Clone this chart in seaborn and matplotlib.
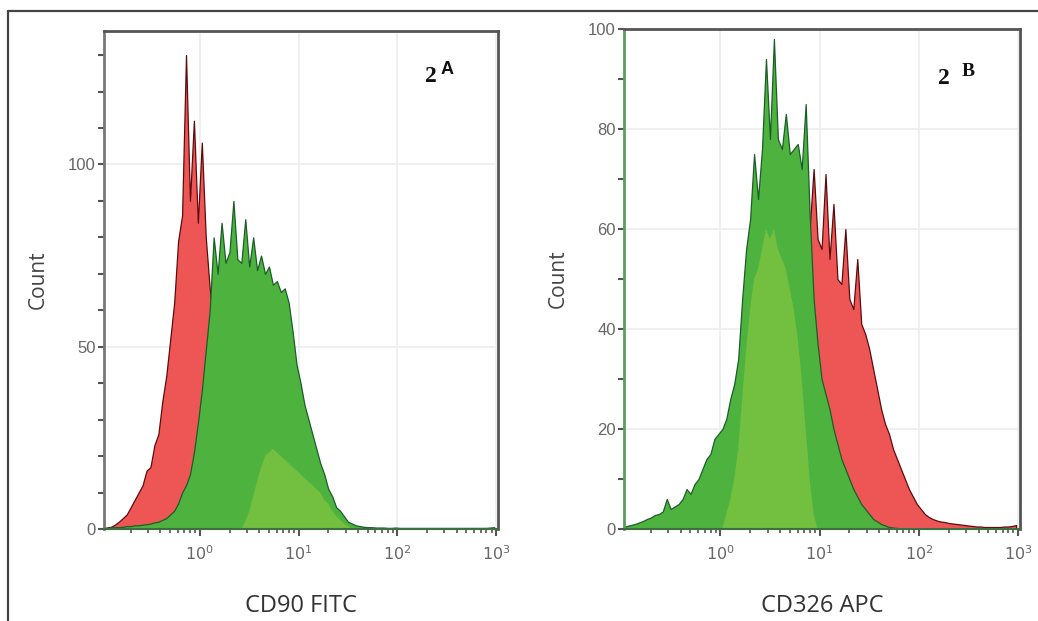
import numpy as np
import matplotlib
matplotlib.use("Agg")
import matplotlib.pyplot as plt
import seaborn as sns
from matplotlib.lines import Line2D
from matplotlib.ticker import LogLocator, NullFormatter, FixedLocator, FixedFormatter

sns.set_theme(style="white")
plt.rcParams['font.family'] = ['Liberation Sans', 'DejaVu Sans']

# ---- data: histogram channel counts, bins of 0.04 decades from 10^-1 to 10^3 ----
log_lo, log_hi, log_step = -1.0, 3.0, 0.04

cd90_red = [
    0.2, 0.4, 0.6, 1.2, 2, 3, 4, 6, 8, 10,
    12, 16, 17, 23, 26, 35, 42, 52, 62, 79,
    86, 130, 90, 112, 84, 106, 80, 66, 56, 44,
    34, 25, 18, 12, 8, 5, 3, 2, 1.2, 0.8,
    0.5, 0.3, 0.2, 0.1, 0, 0, 0, 0, 0, 0,
    0, 0, 0, 0, 0, 0, 0, 0, 0, 0,
    0, 0, 0, 0, 0, 0, 0, 0, 0, 0,
    0, 0, 0, 0, 0, 0, 0, 0, 0, 0,
    0, 0, 0, 0, 0, 0, 0, 0, 0, 0,
    0, 0, 0, 0, 0, 0, 0, 0, 0, 0,
]
cd90_green = [
    0.3, 0.3, 0.4, 0.5, 0.5, 0.6, 0.8, 0.8, 1, 1,
    1.2, 1.3, 1.5, 1.8, 2, 2.5, 3, 4, 5, 7,
    10, 12, 15, 21, 29, 38, 49, 60, 80, 70,
    84, 73, 76, 90, 74, 73, 85, 72, 80, 71,
    75, 70, 72, 67, 68, 65, 66, 62, 54, 45,
    40, 34, 30, 26, 22, 18, 15, 11, 9, 6,
    5, 3.5, 2, 1.5, 1, 0.8, 0.6, 0.5, 0.5, 0.4,
    0.4, 0.4, 0.3, 0.3, 0.4, 0.3, 0.3, 0.3, 0.3, 0.3,
    0.3, 0.3, 0.3, 0.3, 0.3, 0.3, 0.3, 0.3, 0.3, 0.3,
    0.3, 0.3, 0.3, 0.3, 0.3, 0.3, 0.3, 0.3, 0.4, 0.5,
]
cd90_green_light = [
    0, 0, 0, 0, 0, 0, 0, 0, 0, 0,
    0, 0, 0, 0, 0, 0, 0, 0, 0, 0,
    0, 0, 0, 0, 0, 0, 0, 0, 0, 0,
    0, 0, 0, 0, 0, 0, 2, 5, 9, 13,
    17, 20, 21, 22, 21, 20, 19, 18, 17, 16,
    15, 14, 13, 12, 11, 10, 8, 7, 5, 3.5,
    2.5, 1.5, 0.8, 0, 0, 0, 0, 0, 0, 0,
    0, 0, 0, 0, 0, 0, 0, 0, 0, 0,
    0, 0, 0, 0, 0, 0, 0, 0, 0, 0,
    0, 0, 0, 0, 0, 0, 0, 0, 0, 0,
]
cd326_red = [
    0, 0, 0, 0, 0, 0, 0, 0, 0, 0,
    0.2, 0.3, 0.5, 0.8, 1, 1.5, 2, 3, 4, 5,
    6, 8, 10, 12, 14, 17, 20, 24, 28, 32,
    36, 40, 44, 48, 52, 55, 58, 60, 62, 64,
    62, 63, 64, 64, 63, 62, 62, 60, 72, 58,
    56, 71, 54, 65, 50, 49, 60, 46, 44, 54,
    41, 39, 36, 32, 28, 24, 21, 19, 16, 14,
    12, 10, 8, 6.5, 5, 4, 3, 2.4, 2, 1.7,
    1.5, 1.4, 1.2, 1.1, 1, 0.9, 0.8, 0.7, 0.6, 0.5,
    0.5, 0.4, 0.4, 0.4, 0.4, 0.4, 0.5, 0.5, 0.6, 0.8,
]
cd326_green = [
    0.4, 0.6, 0.8, 1, 1.3, 1.6, 2, 2.3, 2.8, 3,
    3.5, 6, 4, 4.5, 5, 6, 8, 7, 9, 10,
    12, 14, 15, 18, 19, 20, 22, 26, 29, 34,
    46, 56, 62, 75, 66, 76, 94, 78, 98, 78,
    76, 83, 75, 76, 77, 72, 85, 63, 46, 37,
    30, 27, 24, 20, 17, 14, 12, 10, 8, 6.5,
    5, 4, 3, 2, 1.5, 1, 0.7, 0.4, 0.3, 0.2,
    0.1, 0.1, 0.1, 0.1, 0.1, 0.1, 0.1, 0.1, 0.1, 0.1,
    0, 0, 0, 0, 0, 0, 0, 0, 0, 0,
    0, 0, 0, 0, 0, 0, 0, 0, 0, 0,
]
cd326_green_light = [
    0, 0, 0, 0, 0, 0, 0, 0, 0, 0,
    0, 0, 0, 0, 0, 0, 0, 0, 0, 0,
    0, 0, 0, 0, 0, 0, 3, 6, 10, 16,
    26, 36, 44, 50, 52, 56, 60, 58, 60, 56,
    54, 52, 48, 44, 38, 30, 20, 10, 3, 0,
    0, 0, 0, 0, 0, 0, 0, 0, 0, 0,
    0, 0, 0, 0, 0, 0, 0, 0, 0, 0,
    0, 0, 0, 0, 0, 0, 0, 0, 0, 0,
    0, 0, 0, 0, 0, 0, 0, 0, 0, 0,
    0, 0, 0, 0, 0, 0, 0, 0, 0, 0,
]
x_labels = ["$10^{0}$", "$10^{1}$", "$10^{2}$", "$10^{3}$"]
x_label_pos = [1, 10, 100, 1000]

n_bins = len(cd90_red)
centers = 10 ** (log_lo + log_step * (np.arange(n_bins) + 0.5))

RED_FILL, RED_EDGE = "#ee5656", "#5e0b0e"
GREEN_FILL, GREEN_EDGE = "#4eb23e", "#1a5e28"
LIGHT_GREEN = "#8cc843"
GREY = "#555555"

fig = plt.figure(figsize=(10.38, 6.21), dpi=100)
fig.patch.set_facecolor("white")
ax1 = fig.add_axes([104 / 1038, 1 - 529 / 621, 394 / 1038, 498 / 621])
ax2 = fig.add_axes([624 / 1038, 1 - 529 / 621, 396 / 1038, 500 / 621])


def hist(ax, counts, fc, ec, lw, alpha=1.0):
    sns.histplot(x=centers, weights=np.asarray(counts, dtype=float),
                 binwidth=log_step, binrange=(log_lo, log_hi), log_scale=True,
                 element="poly", fill=True, color=fc, alpha=alpha,
                 edgecolor=ec, linewidth=lw, ax=ax)


def draw(ax, red, green, light, ymax, major, minor, xlabel, left_col):
    ax.set_axisbelow(True)
    hist(ax, red, RED_FILL, RED_EDGE, 0.9)
    hist(ax, green, GREEN_FILL, GREEN_EDGE, 0.9)
    hist(ax, light, LIGHT_GREEN, "none", 0, alpha=0.6)
    ax.set_xlim(10 ** -0.97, 10 ** 3.02)
    ax.set_ylim(0, ymax)
    ax.xaxis.set_major_locator(FixedLocator(x_label_pos))
    ax.xaxis.set_major_formatter(FixedFormatter(x_labels))
    ax.xaxis.set_minor_locator(LogLocator(base=10, subs=np.arange(2, 10)))
    ax.xaxis.set_minor_formatter(NullFormatter())
    ax.yaxis.set_major_locator(FixedLocator(major))
    ax.yaxis.set_minor_locator(FixedLocator(minor))
    ax.yaxis.set_minor_formatter(NullFormatter())
    ax.tick_params(axis="both", which="both", direction="out", colors=GREY,
                   labelcolor="#666666", bottom=True, left=True)
    ax.tick_params(axis="y", which="both", length=4, width=1.5, labelsize=12, pad=2)
    ax.tick_params(axis="x", which="major", length=5, width=1.5, labelsize=11.5, pad=6)
    ax.tick_params(axis="x", which="minor", length=3, width=1.2)
    ax.grid(True, which="major", color="#eeeeee", linewidth=1.2)
    for s in ["top", "right"]:
        ax.spines[s].set_color("#555555")
        ax.spines[s].set_linewidth(2)
    ax.spines["left"].set_color(left_col)
    ax.spines["left"].set_linewidth(2)
    ax.spines["bottom"].set_color("#3f6f3f")
    ax.spines["bottom"].set_linewidth(1.5)
    ax.set_xlabel(xlabel, fontsize=17, color="#333333", labelpad=22,
                  family=["Open Sans", "DejaVu Sans"])
    ax.set_ylabel("Count", fontsize=15, color="#444444", labelpad=14,
                  family=["Open Sans", "DejaVu Sans"])


draw(ax1, cd90_red, cd90_green, cd90_green_light, 136.6, [0, 50, 100],
     [v for v in range(10, 140, 10) if v not in (50, 100)], "CD90 FITC", "#777777")
draw(ax2, cd326_red, cd326_green, cd326_green_light, 100, [0, 20, 40, 60, 80, 100],
     [10, 30, 50, 70, 90], "CD326 APC", "#5aa05a")

# panel tags
fig.text(425 / 1038, 1 - 77 / 621, "2", fontsize=17, fontweight="bold",
         family=["Liberation Serif", "DejaVu Serif"], va="center", ha="left", color="#111111")
fig.text(441 / 1038, 1 - 70 / 621, "A", fontsize=13, fontweight="bold",
         family=["Liberation Sans", "DejaVu Sans"], va="center", ha="left", color="#111111")
fig.text(938 / 1038, 1 - 79 / 621, "2", fontsize=17, fontweight="bold",
         family=["Liberation Serif", "DejaVu Serif"], va="center", ha="left", color="#111111")
fig.text(962 / 1038, 1 - 71 / 621, "B", fontsize=14, fontweight="bold",
         family=["Liberation Serif", "DejaVu Serif"], va="center", ha="left", color="#111111")

# outer frame (open to the right and bottom)
fig.add_artist(Line2D([8 / 1038, 1.0], [1 - 11 / 621, 1 - 11 / 621], transform=fig.transFigure,
                      color="#444444", linewidth=1.6))
fig.add_artist(Line2D([8 / 1038, 8 / 1038], [0.0, 1 - 11 / 621], transform=fig.transFigure,
                      color="#444444", linewidth=1.6))

fig.savefig("out.png", dpi=100, facecolor="white")
